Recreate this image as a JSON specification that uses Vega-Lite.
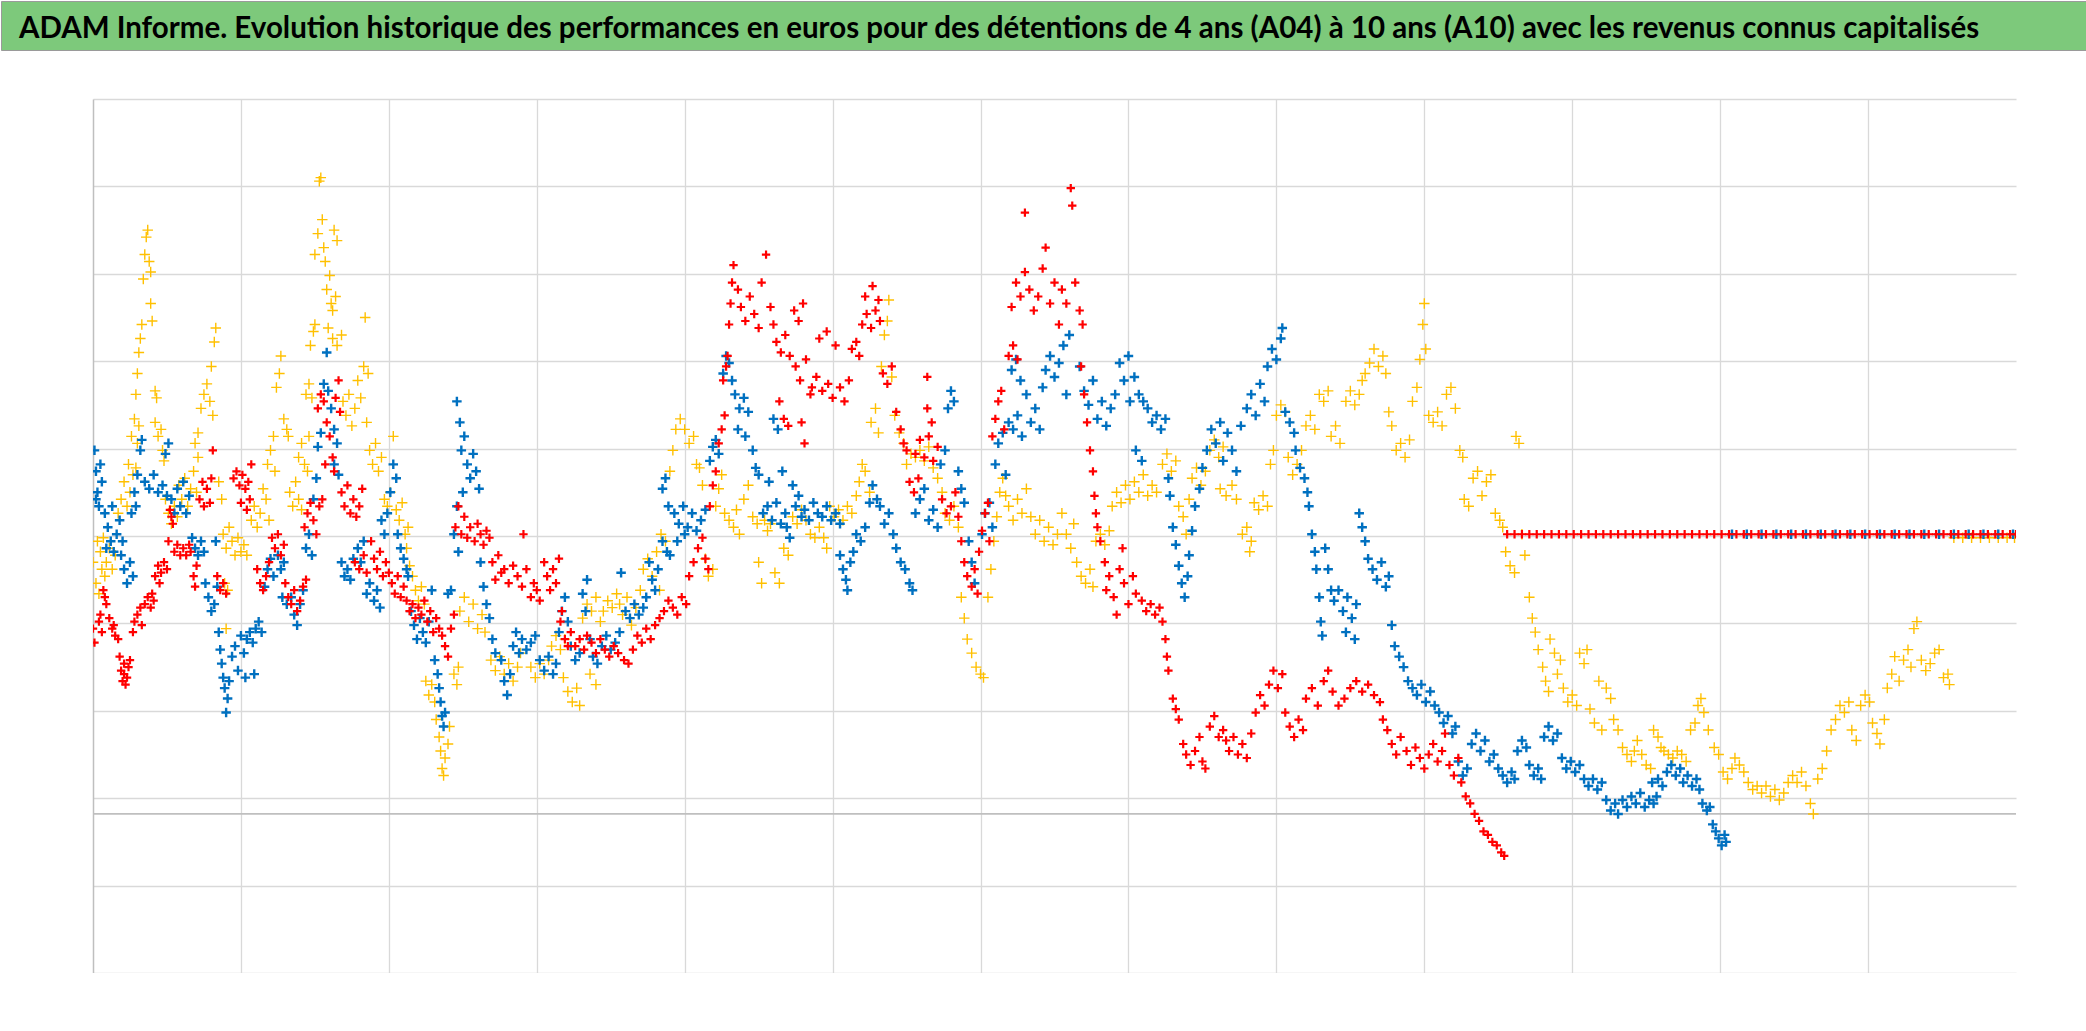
{
"$schema": "https://vega.github.io/schema/vega-lite/v6.json",
"padding": 0,
"background": "white",
"config": {"view": {"stroke": null}},
"bounds": "flush",
"spacing": 49,
"datasets": {
"A10": [{"x":0,"y":53},{"x":1,"y":49},{"x":4,"y":55},{"x":5,"y":57},{"x":6,"y":52},{"x":7,"y":64},{"x":8,"y":62},{"x":9,"y":60},{"x":11,"y":56},{"x":13,"y":53},{"x":14,"y":54},{"x":15,"y":51},{"x":17,"y":50},{"x":18,"y":45},{"x":19,"y":41},{"x":20,"y":38},{"x":21,"y":40},{"x":21,"y":43},{"x":22,"y":37},{"x":23,"y":39},{"x":24,"y":42},{"x":25,"y":44},{"x":27,"y":52},{"x":28,"y":55},{"x":30,"y":57},{"x":32,"y":59},{"x":33,"y":54},{"x":35,"y":60},{"x":37,"y":62},{"x":39,"y":59},{"x":40,"y":63},{"x":41,"y":61},{"x":42,"y":68},{"x":44,"y":71},{"x":45,"y":66},{"x":46,"y":69},{"x":48,"y":72},{"x":50,"y":70},{"x":51,"y":78},{"x":52,"y":87},{"x":53,"y":85},{"x":54,"y":83},{"x":55,"y":75},{"x":57,"y":77},{"x":59,"y":74},{"x":61,"y":76},{"x":63,"y":74},{"x":65,"y":77},{"x":66,"y":75},{"x":68,"y":68},{"x":69,"y":65},{"x":70,"y":71},{"x":72,"y":90},{"x":74,"y":95},{"x":75,"y":88},{"x":77,"y":93},{"x":79,"y":89},{"x":80,"y":96},{"x":81,"y":104},{"x":84,"y":68},{"x":86,"y":64},{"x":88,"y":66},{"x":90,"y":63},{"x":95,"y":96},{"x":97,"y":98},{"x":99,"y":94},{"x":100,"y":89},{"x":101,"y":97},{"x":103,"y":93},{"x":104,"y":87},{"x":105,"y":95},{"x":106,"y":90},{"x":107,"y":100},{"x":111,"y":70},{"x":113,"y":66},{"x":115,"y":64},{"x":117,"y":68},{"x":119,"y":72},{"x":121,"y":79},{"x":123,"y":76},{"x":125,"y":80},{"x":127,"y":74},{"x":129,"y":77},{"x":130,"y":66},{"x":132,"y":62},{"x":134,"y":60},{"x":136,"y":64},{"x":138,"y":58},{"x":140,"y":61},{"x":142,"y":65},{"x":143,"y":82},{"x":144,"y":67},{"x":145,"y":86},{"x":147,"y":89},{"x":149,"y":84},{"x":151,"y":80},{"x":152,"y":116},{"x":153,"y":88},{"x":154,"y":120},{"x":155,"y":90},{"x":156,"y":118},{"x":157,"y":100},{"x":158,"y":112},{"x":160,"y":108},{"x":162,"y":102},{"x":163,"y":98},{"x":164,"y":119},{"x":166,"y":124},{"x":167,"y":115},{"x":168,"y":92},{"x":170,"y":88},{"x":172,"y":94},{"x":174,"y":86},{"x":176,"y":90},{"x":177,"y":72},{"x":178,"y":85},{"x":180,"y":88},{"x":180,"y":70},{"x":182,"y":93},{"x":183,"y":74},{"x":185,"y":69},{"x":188,"y":78},{"x":190,"y":73},{"x":192,"y":70},{"x":194,"y":75},{"x":196,"y":68},{"x":198,"y":72},{"x":200,"y":69},{"x":202,"y":66},{"x":204,"y":63},{"x":206,"y":68},{"x":208,"y":62},{"x":210,"y":65},{"x":212,"y":61},{"x":214,"y":58},{"x":216,"y":60},{"x":218,"y":56},{"x":220,"y":59},{"x":222,"y":57},{"x":224,"y":61},{"x":226,"y":55},{"x":228,"y":58},{"x":230,"y":52},{"x":232,"y":56},{"x":234,"y":53},{"x":236,"y":51},{"x":238,"y":48},{"x":240,"y":45},{"x":242,"y":53},{"x":244,"y":57},{"x":245,"y":82},{"x":247,"y":88},{"x":249,"y":80},{"x":251,"y":85},{"x":253,"y":79},{"x":255,"y":82},{"x":258,"y":78},{"x":260,"y":83},{"x":262,"y":80},{"x":264,"y":77},{"x":266,"y":81},{"x":268,"y":79},{"x":270,"y":72},{"x":272,"y":67},{"x":274,"y":74},{"x":276,"y":69},{"x":278,"y":70},{"x":281,"y":66},{"x":284,"y":71},{"x":287,"y":68},{"x":290,"y":65},{"x":291,"y":80},{"x":293,"y":70},{"x":296,"y":62},{"x":298,"y":66},{"x":300,"y":64},{"x":302,"y":61},{"x":305,"y":72},{"x":307,"y":68},{"x":309,"y":64},{"x":311,"y":70},{"x":313,"y":66},{"x":315,"y":73},{"x":316,"y":55},{"x":317,"y":58},{"x":319,"y":50},{"x":321,"y":48},{"x":323,"y":52},{"x":326,"y":48},{"x":329,"y":50},{"x":332,"y":47},{"x":334,"y":51},{"x":337,"y":49},{"x":340,"y":46},{"x":343,"y":50},{"x":346,"y":47},{"x":349,"y":45},{"x":352,"y":48},{"x":355,"y":46},{"x":359,"y":44},{"x":362,"y":43},{"x":365,"y":47},{"x":368,"y":51},{"x":371,"y":49},{"x":374,"y":53},{"x":377,"y":50},{"x":380,"y":54},{"x":383,"y":56},{"x":386,"y":58},{"x":389,"y":61},{"x":392,"y":59},{"x":395,"y":57},{"x":398,"y":62},{"x":401,"y":60},{"x":403,"y":68},{"x":406,"y":72},{"x":409,"y":76},{"x":412,"y":79},{"x":414,"y":73},{"x":416,"y":70},{"x":417,"y":88},{"x":419,"y":94},{"x":421,"y":98},{"x":423,"y":106},{"x":425,"y":110},{"x":427,"y":114},{"x":426,"y":124},{"x":428,"y":128},{"x":429,"y":131},{"x":430,"y":140},{"x":431,"y":146},{"x":432,"y":152},{"x":433,"y":157},{"x":436,"y":150},{"x":438,"y":145},{"x":441,"y":141},{"x":444,"y":148},{"x":447,"y":143},{"x":450,"y":139},{"x":452,"y":152},{"x":455,"y":160},{"x":458,"y":145},{"x":460,"y":140},{"x":462,"y":135},{"x":465,"y":132},{"x":468,"y":137},{"x":471,"y":131},{"x":464,"y":118},{"x":467,"y":113},{"x":470,"y":111},{"x":474,"y":144},{"x":477,"y":141},{"x":480,"y":146},{"x":475,"y":128},{"x":478,"y":124},{"x":482,"y":130},{"x":486,"y":122},{"x":479,"y":112},{"x":481,"y":106},{"x":485,"y":120},{"x":489,"y":125},{"x":493,"y":121},{"x":497,"y":123},{"x":500,"y":119},{"x":491,"y":136},{"x":496,"y":138},{"x":502,"y":134},{"x":505,"y":122},{"x":508,"y":118},{"x":511,"y":124},{"x":513,"y":133},{"x":516,"y":135},{"x":518,"y":131},{"x":520,"y":140},{"x":523,"y":143},{"x":526,"y":139},{"x":529,"y":144},{"x":532,"y":141},{"x":522,"y":148},{"x":527,"y":151},{"x":531,"y":147},{"x":534,"y":126},{"x":537,"y":123},{"x":540,"y":128},{"x":543,"y":115},{"x":546,"y":110},{"x":548,"y":106},{"x":550,"y":104},{"x":552,"y":95},{"x":555,"y":92},{"x":558,"y":96},{"x":556,"y":103},{"x":559,"y":107},{"x":562,"y":102},{"x":565,"y":108},{"x":568,"y":101},{"x":571,"y":105},{"x":564,"y":116},{"x":567,"y":112},{"x":564,"y":125},{"x":574,"y":90},{"x":577,"y":86},{"x":580,"y":88},{"x":583,"y":92},{"x":585,"y":85},{"x":587,"y":78},{"x":589,"y":72},{"x":591,"y":68},{"x":594,"y":65},{"x":596,"y":70},{"x":598,"y":63},{"x":599,"y":75},{"x":601,"y":81},{"x":603,"y":86},{"x":605,"y":89},{"x":606,"y":78},{"x":608,"y":108},{"x":610,"y":113},{"x":612,"y":118},{"x":614,"y":121},{"x":616,"y":110},{"x":619,"y":131},{"x":622,"y":134},{"x":625,"y":130},{"x":621,"y":145},{"x":624,"y":152},{"x":627,"y":148},{"x":630,"y":155},{"x":630,"y":172},{"x":633,"y":150},{"x":636,"y":144},{"x":639,"y":148},{"x":642,"y":156},{"x":644,"y":162},{"x":647,"y":146},{"x":650,"y":152},{"x":653,"y":140},{"x":655,"y":150},{"x":658,"y":146},{"x":661,"y":179},{"x":662,"y":174},{"x":664,"y":152},{"x":667,"y":144},{"x":669,"y":140},{"x":668,"y":128},{"x":670,"y":120},{"x":672,"y":112},{"x":674,"y":104},{"x":676,"y":98},{"x":677,"y":91},{"x":678,"y":86},{"x":679,"y":82},{"x":681,"y":78},{"x":684,"y":72},{"x":685,"y":64},{"x":687,"y":68},{"x":690,"y":62},{"x":692,"y":57},{"x":694,"y":70},{"x":696,"y":76},{"x":697,"y":66},{"x":700,"y":60},{"x":703,"y":68},{"x":705,"y":63},{"x":709,"y":61},{"x":712,"y":58},{"x":715,"y":60},{"x":718,"y":57},{"x":721,"y":59},{"x":723,"y":55},{"x":725,"y":50},{"x":726,"y":45},{"x":727,"y":41},{"x":730,"y":33},{"x":732,"y":30},{"x":734,"y":27},{"x":737,"y":20},{"x":739,"y":17},{"x":742,"y":14},{"x":745,"y":18},{"x":748,"y":22},{"x":750,"y":15},{"x":752,"y":13},{"x":755,"y":25},{"x":758,"y":28},{"x":761,"y":22},{"x":764,"y":24},{"x":766,"y":21},{"x":768,"y":18},{"x":771,"y":22},{"x":774,"y":17},{"x":777,"y":20},{"x":780,"y":16},{"x":783,"y":23},{"x":786,"y":29},{"x":789,"y":34},{"x":792,"y":31},{"x":795,"y":37},{"x":798,"y":41},{"x":801,"y":36},{"x":804,"y":40},{"x":806,"y":29},{"x":809,"y":25},{"x":812,"y":22},{"x":815,"y":27},{"x":818,"y":24},{"x":820,"y":33},{"x":824,"y":36},{"x":828,"y":31},{"x":832,"y":38},{"x":835,"y":41},{"x":838,"y":35},{"x":842,"y":31},{"x":846,"y":33},{"x":850,"y":36},{"x":854,"y":38},{"x":858,"y":35},{"x":862,"y":37},{"x":866,"y":34},{"x":870,"y":32},{"x":872,"y":27},{"x":875,"y":24},{"x":878,"y":20},{"x":881,"y":17},{"x":884,"y":22},{"x":888,"y":18},{"x":891,"y":14},{"x":894,"y":19},{"x":897,"y":16},{"x":900,"y":13},{"x":903,"y":17},{"x":906,"y":20},{"x":909,"y":15},{"x":912,"y":18},{"x":914,"y":23},{"x":917,"y":14},{"x":920,"y":11},{"x":923,"y":16},{"x":925,"y":9},{"x":928,"y":5},{"x":931,"y":3},{"x":934,"y":0},{"x":937,"y":-2},{"x":940,"y":-5},{"x":943,"y":-6},{"x":946,"y":-8},{"x":949,"y":-9},{"x":952,"y":-11},{"x":954,"y":-12},
{"x":956,"y":80},{"x":961,"y":80},{"x":966,"y":80},{"x":971,"y":80},{"x":976,"y":80},{"x":981,"y":80},{"x":986,"y":80},{"x":991,"y":80},{"x":996,"y":80},{"x":1001,"y":80},{"x":1006,"y":80},{"x":1011,"y":80},{"x":1016,"y":80},{"x":1021,"y":80},{"x":1026,"y":80},{"x":1031,"y":80},{"x":1036,"y":80},{"x":1041,"y":80},{"x":1046,"y":80},{"x":1051,"y":80},{"x":1056,"y":80},{"x":1061,"y":80},{"x":1066,"y":80},{"x":1071,"y":80},{"x":1076,"y":80},{"x":1081,"y":80},{"x":1086,"y":80},{"x":1091,"y":80},{"x":1096,"y":80},{"x":1101,"y":80},{"x":1106,"y":80},{"x":1111,"y":80},{"x":1116,"y":80},{"x":1121,"y":80},{"x":1126,"y":80},{"x":1131,"y":80},{"x":1136,"y":80},{"x":1141,"y":80},{"x":1146,"y":80},{"x":1151,"y":80},{"x":1156,"y":80},{"x":1161,"y":80},{"x":1166,"y":80},{"x":1171,"y":80},{"x":1176,"y":80},{"x":1181,"y":80},{"x":1186,"y":80},{"x":1191,"y":80},{"x":1196,"y":80},{"x":1201,"y":80},{"x":1206,"y":80},{"x":1211,"y":80},{"x":1216,"y":80},{"x":1221,"y":80},{"x":1226,"y":80},{"x":1231,"y":80},{"x":1236,"y":80},{"x":1241,"y":80},{"x":1246,"y":80},{"x":1251,"y":80},{"x":1256,"y":80},{"x":1261,"y":80},{"x":1266,"y":80},{"x":1271,"y":80},{"x":1276,"y":80},{"x":1281,"y":80},{"x":1286,"y":80},{"x":1291,"y":80},{"x":1296,"y":80},{"x":1300,"y":80}],
"A07": [{"x":1,"y":104},{"x":2,"y":98},{"x":2,"y":90},{"x":3,"y":92},{"x":4,"y":88},{"x":5,"y":100},{"x":6,"y":95},{"x":8,"y":86},{"x":9,"y":76},{"x":10,"y":82},{"x":12,"y":78},{"x":13,"y":88},{"x":14,"y":75},{"x":16,"y":80},{"x":18,"y":84},{"x":19,"y":74},{"x":20,"y":78},{"x":21,"y":70},{"x":23,"y":66},{"x":25,"y":72},{"x":26,"y":86},{"x":27,"y":68},{"x":28,"y":92},{"x":29,"y":88},{"x":30,"y":97},{"x":32,"y":104},{"x":33,"y":107},{"x":35,"y":95},{"x":38,"y":93},{"x":41,"y":97},{"x":44,"y":92},{"x":47,"y":94},{"x":49,"y":103},{"x":50,"y":91},{"x":51,"y":106},{"x":53,"y":90},{"x":55,"y":86},{"x":57,"y":93},{"x":59,"y":88},{"x":61,"y":95},{"x":63,"y":86},{"x":65,"y":91},{"x":67,"y":79},{"x":69,"y":76},{"x":71,"y":74},{"x":73,"y":78},{"x":75,"y":75},{"x":76,"y":66},{"x":78,"y":62},{"x":80,"y":58},{"x":82,"y":60},{"x":83,"y":78},{"x":84,"y":65},{"x":85,"y":52},{"x":86,"y":47},{"x":87,"y":43},{"x":88,"y":39},{"x":89,"y":36},{"x":90,"y":29},{"x":91,"y":33},{"x":92,"y":38},{"x":94,"y":45},{"x":96,"y":48},{"x":98,"y":41},{"x":100,"y":51},{"x":102,"y":46},{"x":103,"y":39},{"x":104,"y":50},{"x":106,"y":52},{"x":108,"y":49},{"x":109,"y":40},{"x":110,"y":53},{"x":112,"y":55},{"x":114,"y":52},{"x":116,"y":65},{"x":118,"y":70},{"x":120,"y":73},{"x":122,"y":68},{"x":125,"y":74},{"x":127,"y":70},{"x":128,"y":62},{"x":129,"y":72},{"x":131,"y":60},{"x":134,"y":62},{"x":136,"y":57},{"x":138,"y":54},{"x":140,"y":60},{"x":142,"y":64},{"x":144,"y":76},{"x":146,"y":80},{"x":148,"y":74},{"x":149,"y":90},{"x":151,"y":96},{"x":152,"y":105},{"x":154,"y":109},{"x":156,"y":123},{"x":158,"y":132},{"x":159,"y":121},{"x":161,"y":116},{"x":163,"y":110},{"x":163,"y":100},{"x":165,"y":106},{"x":166,"y":97},{"x":168,"y":72},{"x":170,"y":68},{"x":172,"y":70},{"x":174,"y":67},{"x":176,"y":73},{"x":179,"y":76},{"x":181,"y":72},{"x":183,"y":78},{"x":185,"y":63},{"x":187,"y":66},{"x":190,"y":61},{"x":192,"y":64},{"x":194,"y":59},{"x":195,"y":84},{"x":197,"y":80},{"x":199,"y":86},{"x":201,"y":92},{"x":203,"y":100},{"x":205,"y":96},{"x":206,"y":80},{"x":208,"y":76},{"x":210,"y":73},{"x":212,"y":70},{"x":213,"y":68},{"x":215,"y":58},{"x":217,"y":54},{"x":219,"y":50},{"x":221,"y":56},{"x":223,"y":52},{"x":225,"y":49},{"x":227,"y":55},{"x":229,"y":64},{"x":231,"y":44},{"x":233,"y":40},{"x":234,"y":36},{"x":235,"y":32},{"x":236,"y":28},{"x":237,"y":25},{"x":238,"y":29},{"x":240,"y":63},{"x":242,"y":64},{"x":244,"y":80},{"x":246,"y":88},{"x":247,"y":75},{"x":246,"y":118},{"x":248,"y":112},{"x":249,"y":104},{"x":250,"y":92},{"x":251,"y":108},{"x":253,"y":100},{"x":255,"y":96},{"x":257,"y":103},{"x":259,"y":98},{"x":261,"y":93},{"x":262,"y":72},{"x":264,"y":65},{"x":266,"y":60},{"x":268,"y":56},{"x":270,"y":50},{"x":272,"y":46},{"x":276,"y":44},{"x":278,"y":38},{"x":280,"y":34},{"x":282,"y":40},{"x":284,"y":48},{"x":286,"y":52},{"x":288,"y":46},{"x":290,"y":50},{"x":293,"y":47},{"x":296,"y":49},{"x":299,"y":51},{"x":302,"y":44},{"x":305,"y":41},{"x":308,"y":45},{"x":311,"y":40},{"x":313,"y":43},{"x":315,"y":52},{"x":317,"y":58},{"x":319,"y":62},{"x":321,"y":55},{"x":323,"y":48},{"x":326,"y":44},{"x":329,"y":46},{"x":331,"y":63},{"x":333,"y":58},{"x":334,"y":67},{"x":336,"y":50},{"x":338,"y":45},{"x":341,"y":43},{"x":344,"y":48},{"x":347,"y":51},{"x":350,"y":47},{"x":353,"y":49},{"x":356,"y":52},{"x":357,"y":69},{"x":360,"y":58},{"x":363,"y":56},{"x":366,"y":60},{"x":369,"y":57},{"x":372,"y":59},{"x":374,"y":62},{"x":376,"y":72},{"x":378,"y":67},{"x":380,"y":64},{"x":382,"y":70},{"x":385,"y":78},{"x":385,"y":93},{"x":387,"y":96},{"x":388,"y":75},{"x":389,"y":88},{"x":390,"y":74},{"x":393,"y":86},{"x":395,"y":78},{"x":396,"y":83},{"x":399,"y":88},{"x":400,"y":80},{"x":402,"y":82},{"x":405,"y":86},{"x":408,"y":81},{"x":411,"y":84},{"x":414,"y":87},{"x":417,"y":101},{"x":419,"y":105},{"x":421,"y":107},{"x":423,"y":103},{"x":426,"y":126},{"x":428,"y":131},{"x":430,"y":129},{"x":432,"y":124},{"x":434,"y":120},{"x":436,"y":110},{"x":437,"y":116},{"x":440,"y":119},{"x":441,"y":108},{"x":443,"y":115},{"x":446,"y":104},{"x":448,"y":99},{"x":450,"y":97},{"x":453,"y":86},{"x":456,"y":88},{"x":457,"y":95},{"x":459,"y":84},{"x":460,"y":113},{"x":462,"y":89},{"x":463,"y":110},{"x":465,"y":83},{"x":466,"y":98},{"x":468,"y":86},{"x":469,"y":82},{"x":471,"y":79},{"x":473,"y":94},{"x":475,"y":88},{"x":477,"y":91},{"x":479,"y":85},{"x":481,"y":87},{"x":484,"y":84},{"x":487,"y":89},{"x":490,"y":86},{"x":493,"y":85},{"x":496,"y":88},{"x":499,"y":84},{"x":502,"y":86},{"x":505,"y":83},{"x":505,"y":74},{"x":507,"y":70},{"x":509,"y":67},{"x":510,"y":64},{"x":512,"y":72},{"x":514,"y":75},{"x":516,"y":80},{"x":519,"y":78},{"x":522,"y":82},{"x":525,"y":89},{"x":527,"y":94},{"x":530,"y":90},{"x":532,"y":88},{"x":535,"y":83},{"x":538,"y":86},{"x":541,"y":80},{"x":543,"y":76},{"x":546,"y":72},{"x":549,"y":70},{"x":552,"y":66},{"x":554,"y":64},{"x":556,"y":86},{"x":559,"y":90},{"x":562,"y":93},{"x":565,"y":84},{"x":568,"y":87},{"x":571,"y":82},{"x":573,"y":100},{"x":576,"y":104},{"x":578,"y":116},{"x":580,"y":121},{"x":582,"y":118},{"x":585,"y":98},{"x":587,"y":93},{"x":589,"y":89},{"x":592,"y":78},{"x":594,"y":72},{"x":596,"y":66},{"x":601,"y":80},{"x":603,"y":86},{"x":606,"y":89},{"x":608,"y":82},{"x":610,"y":100},{"x":612,"y":106},{"x":615,"y":109},{"x":617,"y":97},{"x":619,"y":112},{"x":621,"y":127},{"x":622,"y":110},{"x":624,"y":130},{"x":625,"y":114},{"x":627,"y":124},{"x":628,"y":108},{"x":631,"y":120},{"x":634,"y":112},{"x":637,"y":116},{"x":640,"y":110},{"x":642,"y":122},{"x":644,"y":127},{"x":647,"y":131},{"x":650,"y":125},{"x":653,"y":129},{"x":656,"y":134},{"x":658,"y":120},{"x":660,"y":137},{"x":667,"y":128},{"x":670,"y":121},{"x":673,"y":117},{"x":676,"y":124},{"x":679,"y":113},{"x":682,"y":118},{"x":685,"y":111},{"x":688,"y":116},{"x":691,"y":120},{"x":694,"y":129},{"x":697,"y":124},{"x":700,"y":131},{"x":701,"y":118},{"x":704,"y":125},{"x":705,"y":104},{"x":707,"y":120},{"x":709,"y":101},{"x":710,"y":118},{"x":713,"y":116},{"x":716,"y":112},{"x":719,"y":114},{"x":722,"y":110},{"x":725,"y":113},{"x":727,"y":96},{"x":728,"y":91},{"x":730,"y":82},{"x":732,"y":77},{"x":734,"y":71},{"x":736,"y":66},{"x":738,"y":62},{"x":740,"y":68},{"x":741,"y":74},{"x":743,"y":81},{"x":745,"y":88},{"x":748,"y":93},{"x":750,"y":99},{"x":753,"y":104},{"x":756,"y":110},{"x":759,"y":106},{"x":762,"y":112},{"x":764,"y":101},{"x":767,"y":109},{"x":770,"y":104},{"x":773,"y":98},{"x":776,"y":111},{"x":780,"y":116},{"x":783,"y":120},{"x":786,"y":114},{"x":789,"y":123},{"x":792,"y":118},{"x":794,"y":128},{"x":797,"y":133},{"x":800,"y":130},{"x":803,"y":136},{"x":804,"y":139},{"x":806,"y":115},{"x":809,"y":112},{"x":812,"y":109},{"x":813,"y":104},{"x":816,"y":99},{"x":819,"y":96},{"x":821,"y":92},{"x":822,"y":88},{"x":824,"y":80},{"x":826,"y":75},{"x":827,"y":70},{"x":829,"y":62},{"x":830,"y":55},{"x":831,"y":51},{"x":833,"y":76},{"x":835,"y":70},{"x":837,"y":64},{"x":839,"y":61},{"x":842,"y":64},{"x":845,"y":58},{"x":847,"y":52},{"x":848,"y":62},{"x":851,"y":56},{"x":853,"y":50},{"x":854,"y":60},{"x":856,"y":86},{"x":858,"y":82},{"x":860,"y":78},{"x":862,"y":73},{"x":865,"y":70},{"x":868,"y":67},{"x":871,"y":72},{"x":874,"y":65},{"x":876,"y":68},{"x":878,"y":54},{"x":880,"y":48},{"x":883,"y":45},{"x":886,"y":42},{"x":889,"y":38},{"x":892,"y":36},{"x":895,"y":34},{"x":898,"y":37},{"x":901,"y":32},{"x":904,"y":35},{"x":907,"y":31},{"x":910,"y":29},{"x":913,"y":26},{"x":916,"y":28},{"x":919,"y":23},{"x":921,"y":25},{"x":923,"y":15},{"x":926,"y":11},{"x":929,"y":13},{"x":932,"y":20},{"x":935,"y":23},{"x":938,"y":18},{"x":941,"y":21},{"x":944,"y":15},{"x":947,"y":17},{"x":950,"y":13},{"x":953,"y":11},{"x":956,"y":9},{"x":959,"y":12},{"x":961,"y":10},{"x":963,"y":18},{"x":966,"y":21},{"x":969,"y":19},{"x":971,"y":14},{"x":974,"y":11},{"x":977,"y":13},{"x":979,"y":10},{"x":981,"y":22},{"x":984,"y":25},{"x":987,"y":21},{"x":990,"y":23},{"x":993,"y":16},{"x":996,"y":13},{"x":999,"y":15},{"x":1002,"y":12},{"x":1005,"y":14},{"x":1008,"y":10},{"x":1011,"y":8},{"x":1014,"y":10},{"x":1017,"y":7},{"x":1020,"y":9},{"x":1023,"y":4},{"x":1026,"y":1},{"x":1029,"y":3},{"x":1031,"y":0},{"x":1034,"y":4},{"x":1037,"y":2},{"x":1040,"y":5},{"x":1043,"y":3},{"x":1046,"y":6},{"x":1049,"y":2},{"x":1052,"y":4},{"x":1054,"y":9},{"x":1055,"y":3},{"x":1057,"y":5},{"x":1058,"y":10},{"x":1061,"y":8},{"x":1064,"y":12},{"x":1067,"y":14},{"x":1070,"y":11},{"x":1073,"y":13},{"x":1075,"y":9},{"x":1078,"y":11},{"x":1081,"y":8},{"x":1084,"y":10},{"x":1086,"y":7},{"x":1088,"y":3},{"x":1091,"y":1},{"x":1093,"y":2},{"x":1095,"y":-3},{"x":1097,"y":-5},{"x":1099,"y":-7},{"x":1101,"y":-9},{"x":1103,"y":-6},{"x":1104,"y":-8},
{"x":1108,"y":80},{"x":1118,"y":80},{"x":1128,"y":80},{"x":1138,"y":80},{"x":1148,"y":80},{"x":1158,"y":80},{"x":1168,"y":80},{"x":1178,"y":80},{"x":1188,"y":80},{"x":1198,"y":80},{"x":1208,"y":80},{"x":1218,"y":80},{"x":1228,"y":80},{"x":1238,"y":80},{"x":1248,"y":80},{"x":1258,"y":80},{"x":1268,"y":80},{"x":1278,"y":80},{"x":1288,"y":80},{"x":1298,"y":80}],
"A04": [{"x":0,"y":72},{"x":2,"y":66},{"x":3,"y":78},{"x":4,"y":63},{"x":5,"y":75},{"x":6,"y":70},{"x":7,"y":79},{"x":8,"y":68},{"x":9,"y":72},{"x":11,"y":76},{"x":13,"y":70},{"x":15,"y":74},{"x":17,"y":86},{"x":19,"y":90},{"x":21,"y":95},{"x":23,"y":88},{"x":24,"y":100},{"x":25,"y":92},{"x":26,"y":108},{"x":27,"y":97},{"x":28,"y":113},{"x":29,"y":99},{"x":29,"y":120},{"x":30,"y":106},{"x":30,"y":126},{"x":31,"y":111},{"x":31,"y":132},{"x":32,"y":136},{"x":33,"y":140},{"x":34,"y":153},{"x":35,"y":160},{"x":36,"y":165},{"x":37,"y":167},{"x":38,"y":158},{"x":39,"y":155},{"x":39,"y":146},{"x":40,"y":141},{"x":42,"y":121},{"x":43,"y":119},{"x":42,"y":112},{"x":44,"y":108},{"x":46,"y":110},{"x":47,"y":104},{"x":48,"y":101},{"x":49,"y":90},{"x":51,"y":86},{"x":53,"y":83},{"x":55,"y":88},{"x":57,"y":85},{"x":58,"y":94},{"x":60,"y":90},{"x":62,"y":96},{"x":64,"y":88},{"x":66,"y":93},{"x":68,"y":98},{"x":69,"y":106},{"x":70,"y":92},{"x":71,"y":102},{"x":71,"y":109},{"x":73,"y":116},{"x":75,"y":120},{"x":77,"y":123},{"x":79,"y":118},{"x":80,"y":128},{"x":81,"y":114},{"x":82,"y":135},{"x":83,"y":139},{"x":85,"y":95},{"x":87,"y":90},{"x":88,"y":80},{"x":89,"y":66},{"x":90,"y":76},{"x":90,"y":53},{"x":91,"y":64},{"x":92,"y":82},{"x":94,"y":78},{"x":96,"y":74},{"x":98,"y":79},{"x":100,"y":75},{"x":102,"y":77},{"x":104,"y":74},{"x":107,"y":84},{"x":109,"y":88},{"x":111,"y":82},{"x":113,"y":86},{"x":115,"y":93},{"x":117,"y":90},{"x":118,"y":100},{"x":119,"y":84},{"x":120,"y":104},{"x":122,"y":108},{"x":123,"y":98},{"x":124,"y":122},{"x":126,"y":126},{"x":127,"y":131},{"x":129,"y":113},{"x":131,"y":110},{"x":132,"y":108},{"x":133,"y":92},{"x":135,"y":88},{"x":137,"y":95},{"x":139,"y":90},{"x":139,"y":102},{"x":141,"y":87},{"x":141,"y":106},{"x":143,"y":100},{"x":144,"y":120},{"x":145,"y":98},{"x":146,"y":108},{"x":146,"y":123},{"x":147,"y":134},{"x":148,"y":119},{"x":149,"y":138},{"x":150,"y":140},{"x":150,"y":160},{"x":152,"y":166},{"x":153,"y":181},{"x":154,"y":182},{"x":155,"y":170},{"x":156,"y":162},{"x":157,"y":158},{"x":158,"y":150},{"x":159,"y":139},{"x":160,"y":154},{"x":161,"y":146},{"x":162,"y":144},{"x":162,"y":136},{"x":163,"y":167},{"x":164,"y":148},{"x":165,"y":164},{"x":165,"y":134},{"x":168,"y":137},{"x":169,"y":118},{"x":171,"y":114},{"x":173,"y":120},{"x":175,"y":111},{"x":177,"y":116},{"x":179,"y":124},{"x":181,"y":119},{"x":183,"y":128},{"x":184,"y":142},{"x":185,"y":112},{"x":186,"y":126},{"x":187,"y":104},{"x":189,"y":100},{"x":191,"y":106},{"x":193,"y":98},{"x":195,"y":102},{"x":197,"y":90},{"x":199,"y":88},{"x":201,"y":92},{"x":203,"y":108},{"x":205,"y":87},{"x":207,"y":84},{"x":209,"y":89},{"x":211,"y":80},{"x":212,"y":76},{"x":213,"y":82},{"x":214,"y":71},{"x":216,"y":68},{"x":218,"y":64},{"x":220,"y":61},{"x":222,"y":65},{"x":224,"y":60},{"x":225,"y":38},{"x":227,"y":34},{"x":229,"y":37},{"x":231,"y":32},{"x":232,"y":27},{"x":234,"y":22},{"x":235,"y":18},{"x":236,"y":13},{"x":237,"y":11},{"x":238,"y":16},{"x":240,"y":20},{"x":241,"y":25},{"x":244,"y":40},{"x":246,"y":37},{"x":247,"y":42},{"x":248,"y":58},{"x":251,"y":62},{"x":254,"y":55},{"x":257,"y":60},{"x":260,"y":53},{"x":263,"y":57},{"x":265,"y":52},{"x":269,"y":44},{"x":272,"y":41},{"x":275,"y":45},{"x":278,"y":40},{"x":281,"y":43},{"x":284,"y":38},{"x":287,"y":42},{"x":289,"y":46},{"x":296,"y":42},{"x":299,"y":39},{"x":302,"y":43},{"x":305,"y":40},{"x":308,"y":44},{"x":310,"y":48},{"x":313,"y":51},{"x":316,"y":47},{"x":318,"y":39},{"x":319,"y":50},{"x":321,"y":35},{"x":324,"y":32},{"x":327,"y":36},{"x":329,"y":31},{"x":331,"y":56},{"x":334,"y":60},{"x":336,"y":40},{"x":337,"y":58},{"x":340,"y":62},{"x":340,"y":37},{"x":343,"y":55},{"x":345,"y":58},{"x":348,"y":61},{"x":351,"y":59},{"x":354,"y":63},{"x":356,"y":60},{"x":358,"y":57},{"x":361,"y":62},{"x":364,"y":54},{"x":367,"y":59},{"x":370,"y":64},{"x":372,"y":70},{"x":375,"y":73},{"x":378,"y":68},{"x":381,"y":75},{"x":383,"y":64},{"x":384,"y":80},{"x":387,"y":78},{"x":390,"y":98},{"x":392,"y":104},{"x":394,"y":110},{"x":397,"y":113},{"x":400,"y":110},{"x":403,"y":106},{"x":406,"y":108},{"x":408,"y":100},{"x":410,"y":99},{"x":412,"y":94},{"x":414,"y":73},{"x":416,"y":68},{"x":419,"y":70},{"x":421,"y":88},{"x":423,"y":93},{"x":425,"y":97},{"x":427,"y":86},{"x":430,"y":84},{"x":433,"y":82},{"x":435,"y":87},{"x":437,"y":80},{"x":440,"y":90},{"x":443,"y":94},{"x":446,"y":85},{"x":449,"y":83},{"x":450,"y":72},{"x":452,"y":66},{"x":454,"y":84},{"x":456,"y":81},{"x":458,"y":83},{"x":461,"y":69},{"x":464,"y":66},{"x":467,"y":76},{"x":470,"y":74},{"x":473,"y":85},{"x":476,"y":83},{"x":479,"y":87},{"x":482,"y":84},{"x":485,"y":80},{"x":488,"y":79},{"x":491,"y":82},{"x":494,"y":79},{"x":496,"y":76},{"x":498,"y":88},{"x":501,"y":85},{"x":504,"y":87},{"x":507,"y":84},{"x":510,"y":88},{"x":513,"y":86},{"x":516,"y":91},{"x":518,"y":95},{"x":520,"y":100},{"x":522,"y":98},{"x":525,"y":92},{"x":526,"y":112},{"x":529,"y":116},{"x":531,"y":109},{"x":533,"y":128},{"x":535,"y":137},{"x":537,"y":141},{"x":538,"y":147},{"x":540,"y":125},{"x":542,"y":114},{"x":545,"y":109},{"x":548,"y":106},{"x":550,"y":100},{"x":553,"y":103},{"x":556,"y":102},{"x":559,"y":104},{"x":562,"y":101},{"x":565,"y":105},{"x":568,"y":99},{"x":571,"y":96},{"x":574,"y":92},{"x":576,"y":86},{"x":579,"y":84},{"x":582,"y":88},{"x":585,"y":82},{"x":587,"y":62},{"x":589,"y":56},{"x":591,"y":50},{"x":594,"y":46},{"x":597,"y":42},{"x":600,"y":40},{"x":602,"y":39},{"x":605,"y":62},{"x":607,"y":70},{"x":609,"y":78},{"x":611,"y":85},{"x":613,"y":92},{"x":615,"y":96},{"x":617,"y":91},{"x":619,"y":88},{"x":622,"y":84},{"x":625,"y":90},{"x":628,"y":86},{"x":631,"y":93},{"x":634,"y":85},{"x":637,"y":80},{"x":640,"y":84},{"x":643,"y":78},{"x":646,"y":82},{"x":649,"y":77},{"x":652,"y":80},{"x":655,"y":86},{"x":658,"y":80},{"x":661,"y":76},{"x":663,"y":83},{"x":665,"y":72},{"x":668,"y":68},{"x":671,"y":66},{"x":674,"y":70},{"x":676,"y":65},{"x":678,"y":78},{"x":681,"y":80},{"x":684,"y":77},{"x":687,"y":81},{"x":689,"y":88},{"x":692,"y":92},{"x":695,"y":89},{"x":698,"y":94},{"x":701,"y":90},{"x":704,"y":95},{"x":707,"y":92},{"x":710,"y":97},{"x":713,"y":91},{"x":716,"y":94},{"x":719,"y":92},{"x":723,"y":100},{"x":726,"y":103},{"x":729,"y":98},{"x":732,"y":101},{"x":734,"y":88},{"x":737,"y":85},{"x":739,"y":80},{"x":741,"y":90},{"x":743,"y":96},{"x":746,"y":99},{"x":749,"y":94},{"x":752,"y":98},{"x":755,"y":104},{"x":758,"y":107},{"x":761,"y":102},{"x":762,"y":93},{"x":764,"y":105},{"x":766,"y":91},{"x":770,"y":94},{"x":773,"y":90},{"x":777,"y":80},{"x":780,"y":82},{"x":782,"y":75},{"x":783,"y":78},{"x":785,"y":89},{"x":788,"y":87},{"x":791,"y":91},{"x":794,"y":88},{"x":796,"y":100},{"x":798,"y":104},{"x":800,"y":114},{"x":803,"y":117},{"x":806,"y":115},{"x":808,"y":102},{"x":811,"y":97},{"x":814,"y":100},{"x":817,"y":104},{"x":820,"y":111},{"x":823,"y":114},{"x":826,"y":110},{"x":829,"y":120},{"x":832,"y":118},{"x":835,"y":121},{"x":837,"y":108},{"x":840,"y":111},{"x":843,"y":106},{"x":847,"y":118},{"x":850,"y":121},{"x":853,"y":117},{"x":856,"y":120},{"x":858,"y":124},{"x":860,"y":126},{"x":863,"y":129},{"x":866,"y":133},{"x":869,"y":128},{"x":872,"y":131},{"x":874,"y":126},{"x":876,"y":115},{"x":878,"y":111},{"x":881,"y":104},{"x":884,"y":106},{"x":887,"y":102},{"x":890,"y":107},{"x":892,"y":118},{"x":895,"y":122},{"x":897,"y":130},{"x":899,"y":140},{"x":900,"y":146},{"x":901,"y":133},{"x":903,"y":114},{"x":906,"y":112},{"x":909,"y":115},{"x":912,"y":111},{"x":915,"y":120},{"x":918,"y":122},{"x":921,"y":116},{"x":924,"y":104},{"x":926,"y":102},{"x":927,"y":90},{"x":930,"y":88},{"x":933,"y":96},{"x":936,"y":98},{"x":939,"y":91},{"x":942,"y":95},{"x":945,"y":97},{"x":948,"y":86},{"x":951,"y":84},{"x":953,"y":82},{"x":955,"y":75},{"x":958,"y":71},{"x":961,"y":69},{"x":962,"y":108},{"x":964,"y":106},{"x":966,"y":80},{"x":968,"y":74},{"x":971,"y":62},{"x":973,"y":56},{"x":975,"y":52},{"x":977,"y":47},{"x":980,"y":42},{"x":982,"y":38},{"x":984,"y":35},{"x":985,"y":50},{"x":988,"y":46},{"x":990,"y":40},{"x":992,"y":44},{"x":994,"y":36},{"x":997,"y":32},{"x":1000,"y":34},{"x":1003,"y":31},{"x":1005,"y":46},{"x":1008,"y":43},{"x":1010,"y":47},{"x":1012,"y":30},{"x":1015,"y":26},{"x":1018,"y":38},{"x":1020,"y":24},{"x":1023,"y":36},{"x":1026,"y":33},{"x":1028,"y":27},{"x":1031,"y":24},{"x":1034,"y":19},{"x":1037,"y":17},{"x":1040,"y":15},{"x":1042,"y":18},{"x":1044,"y":21},{"x":1047,"y":17},{"x":1050,"y":14},{"x":1053,"y":13},{"x":1055,"y":24},{"x":1058,"y":22},{"x":1060,"y":19},{"x":1062,"y":18},{"x":1065,"y":17},{"x":1068,"y":16},{"x":1071,"y":18},{"x":1074,"y":17},{"x":1077,"y":15},{"x":1080,"y":24},{"x":1083,"y":26},{"x":1085,"y":31},{"x":1087,"y":33},{"x":1089,"y":29},{"x":1092,"y":24},{"x":1096,"y":19},{"x":1099,"y":17},{"x":1102,"y":12},{"x":1105,"y":10},{"x":1108,"y":13},{"x":1110,"y":16},{"x":1113,"y":14},{"x":1116,"y":12},{"x":1119,"y":9},{"x":1122,"y":7},{"x":1125,"y":8},{"x":1128,"y":6},{"x":1131,"y":8},{"x":1134,"y":5},{"x":1137,"y":7},{"x":1140,"y":4},{"x":1143,"y":6},{"x":1146,"y":9},{"x":1149,"y":11},{"x":1152,"y":9},{"x":1155,"y":12},{"x":1158,"y":8},{"x":1161,"y":3},{"x":1163,"y":0},{"x":1166,"y":10},{"x":1169,"y":13},{"x":1172,"y":18},{"x":1175,"y":24},{"x":1178,"y":27},{"x":1181,"y":31},{"x":1184,"y":29},{"x":1187,"y":32},{"x":1189,"y":24},{"x":1192,"y":21},{"x":1195,"y":31},{"x":1198,"y":34},{"x":1201,"y":32},{"x":1203,"y":26},{"x":1206,"y":23},{"x":1208,"y":20},{"x":1211,"y":27},{"x":1213,"y":36},{"x":1216,"y":40},{"x":1218,"y":45},{"x":1221,"y":38},{"x":1224,"y":44},{"x":1227,"y":47},{"x":1229,"y":42},{"x":1231,"y":53},{"x":1233,"y":55},{"x":1236,"y":44},{"x":1239,"y":41},{"x":1242,"y":43},{"x":1245,"y":46},{"x":1248,"y":47},{"x":1251,"y":39},{"x":1254,"y":40},{"x":1255,"y":37},
{"x":1258,"y":79},{"x":1264,"y":79},{"x":1270,"y":79},{"x":1276,"y":79},{"x":1282,"y":79},{"x":1288,"y":79},{"x":1294,"y":79},{"x":1299,"y":79}],
"zero": [{"y":0}]
},
"vconcat": [
{
"width": 2086,
"height": 49,
"view": {"fill": "#7DC97B", "stroke": "#9A9A9A", "strokeWidth": 1},
"data": {"values": [{"t": "ADAM Informe. Evolution historique des performances en euros pour des détentions de 4 ans (A04) à 10 ans (A10) avec les revenus connus capitalisés"}]},
"mark": {"type": "text", "align": "center", "baseline": "middle", "dx": -45, "dy": 3, "font": "Lato", "fontWeight": "bold", "fontSize": 29.5, "color": "#000000"},
"encoding": {"text": {"field": "t", "type": "nominal"}}
},
{
"hconcat": [
{
"width": 92,
"height": 874,
"data": {"values": [{"t": ""}]},
"mark": {"type": "text"},
"encoding": {"text": {"field": "t", "type": "nominal"}}
},
{
"width": 1923,
"height": 874,
"layer": [
{
"data": {"name": "zero"},
"mark": {"type": "rule", "color": "#BFBFBF", "strokeWidth": 1.8},
"encoding": {"y": {"field": "y", "type": "quantitative"}}
},
{
"data": {"name": "A04"},
"mark": {"type": "point", "shape": "M-1,0L1,0M0,-1L0,1", "filled": false, "color": "#FFC000", "strokeWidth": 1.4, "size": 110, "opacity": 1, "clip": true},
"encoding": {
"x": {"field": "x", "type": "quantitative", "scale": {"domain": [0, 1300], "nice": false, "zero": false}, "axis": {"values": [100, 200, 300, 400, 500, 600, 700, 800, 900, 1000, 1100, 1200], "labels": false, "ticks": false, "domain": false, "grid": true, "gridColor": "#D9D9D9", "gridWidth": 1.3, "title": null}},
"y": {"field": "y", "type": "quantitative", "scale": {"domain": [-45.5, 204.5], "nice": false, "zero": false}, "axis": {"values": [-45.5, -20.5, 4.5, 29.5, 54.5, 79.5, 104.5, 129.5, 154.5, 179.5, 204.5], "labels": false, "ticks": false, "domain": true, "domainColor": "#BFBFBF", "domainWidth": 1.5, "grid": true, "gridColor": "#D9D9D9", "gridWidth": 1.3, "title": null}}
}
},
{
"data": {"name": "A07"},
"mark": {"type": "point", "shape": "M-1,0L1,0M0,-1L0,1", "filled": false, "color": "#0070C0", "strokeWidth": 2.4, "size": 90, "opacity": 1, "clip": true},
"encoding": {"x": {"field": "x", "type": "quantitative"}, "y": {"field": "y", "type": "quantitative"}}
},
{
"data": {"name": "A10"},
"mark": {"type": "point", "shape": "M-1,0L1,0M0,-1L0,1", "filled": false, "color": "#FF0000", "strokeWidth": 2.2, "size": 70, "opacity": 1, "clip": true},
"encoding": {"x": {"field": "x", "type": "quantitative"}, "y": {"field": "y", "type": "quantitative"}}
}
]
}
],
"spacing": 0,
"bounds": "flush"
}
]
}
